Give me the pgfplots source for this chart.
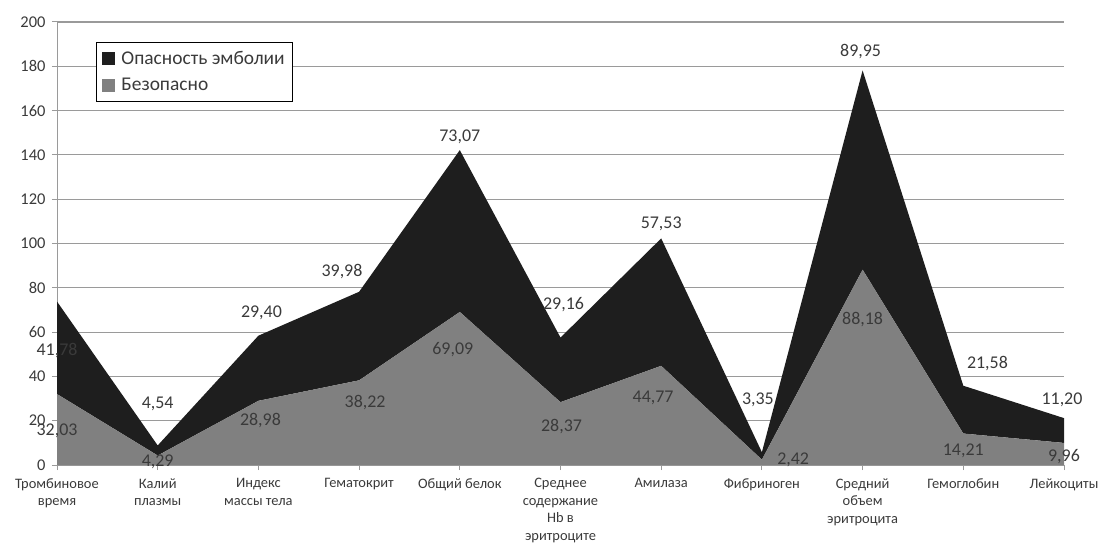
\documentclass[border=0pt]{standalone}
\usepackage{fontspec}
\setmainfont{Carlito}
\usepackage{pgfplots}
\pgfplotsset{compat=1.18}
\usepackage{pgfplotstable}
\definecolor{txt}{HTML}{3A3A3A}
\definecolor{grd}{HTML}{9A9A9A}
\definecolor{safe}{HTML}{808080}
\definecolor{dang}{HTML}{1E1E1E}

\pgfplotstableread{
x y
0 32.03
1 4.29
2 28.98
3 38.22
4 69.09
5 28.37
6 44.77
7 2.42
8 88.18
9 14.21
10 9.96
}\safedata

\pgfplotstableread{
x y
0 41.78
1 4.54
2 29.40
3 39.98
4 73.07
5 29.16
6 57.53
7 3.35
8 89.95
9 21.58
10 11.20
}\dangdata

\pgfplotstableread{
x y label
0.0 51.9 41,78
1.0 27.5 4,54
2.03 68.5 29,40
2.83 87.3 39,98
4.0 148.2 73,07
5.03 72.2 29,16
6.0 109.1 57,53
6.96 29.3 3,35
7.98 186.6 89,95
9.24 46.0 21,58
9.98 29.3 11,20
0.0 15.5 32,03
1.0 1.5 4,29
2.02 20.3 28,98
3.06 28.0 38,22
3.93 51.9 69,09
5.01 17.2 28,37
5.92 30.2 44,77
7.31 2.3 2,42
8.0 65.8 88,18
9.0 6.3 14,21
10.0 3.9 9,96
}\labeldata

\begin{document}
\begin{tikzpicture}
\useasboundingbox (-57bp,-87bp) rectangle (1047bp,465bp);
\begin{axis}[
  scale only axis,
  width=1007bp, height=443bp,
  xmin=0, xmax=10, ymin=0, ymax=200,
  ytick={0,20,...,200},
  xtick={0,...,10},
  xticklabels={{Тромбиновое\\время},{Калий\\плазмы},{Индекс\\массы тела},{Гематокрит},{Общий белок},{Среднее\\содержание\\Hb в\\эритроците},{Амилаза},{Фибриноген},{Средний\\объем\\эритроцита},{Гемоглобин},{Лейкоциты}},
  xticklabel style={align=center, font=\fontsize{14.5}{17.5}\selectfont, text=txt, yshift=-5bp},
  yticklabel style={font=\fontsize{16.5}{18}\selectfont, text=txt, xshift=-3bp},
  /pgf/number format/assume math mode=true,
  axis x line*=bottom, axis y line*=left,
  axis line style={grd, line width=1pt},
  x axis line style={-}, y axis line style={-},
  tick style={grd, line width=1pt},
  tick align=outside, major tick length=5bp,
  ymajorgrids, grid style={grd, line width=1.1pt},
  clip=false,
  stack plots=y,
  legend style={at={(0.0387,0.955)}, anchor=north west, draw=black, line width=0.9pt,
    font=\fontsize{19.5}{22}\selectfont, text=txt, inner xsep=6bp, inner ysep=7bp,
    row sep=8bp, cells={anchor=west}},
  legend image code/.code={\fill[#1] (0bp,-6.5bp) rectangle (13bp,6.5bp); \path (17bp,0bp);},
  reverse legend,
]
\addplot[fill=safe, draw=none] table[x=x,y=y] {\safedata} \closedcycle;
\addlegendentry{Безопасно}
\addplot[fill=dang, draw=none] table[x=x,y=y] {\dangdata} \closedcycle;
\addlegendentry{Опасность эмболии}
\addplot[stack plots=false, forget plot, draw=none, mark=none, only marks,
  nodes near coords, point meta=explicit symbolic,
  every node near coord/.append style={anchor=center, text=txt, font=\fontsize{18}{20}\selectfont}]
  table[x=x,y=y,meta=label] {\labeldata};
\end{axis}
\end{tikzpicture}
\end{document}
